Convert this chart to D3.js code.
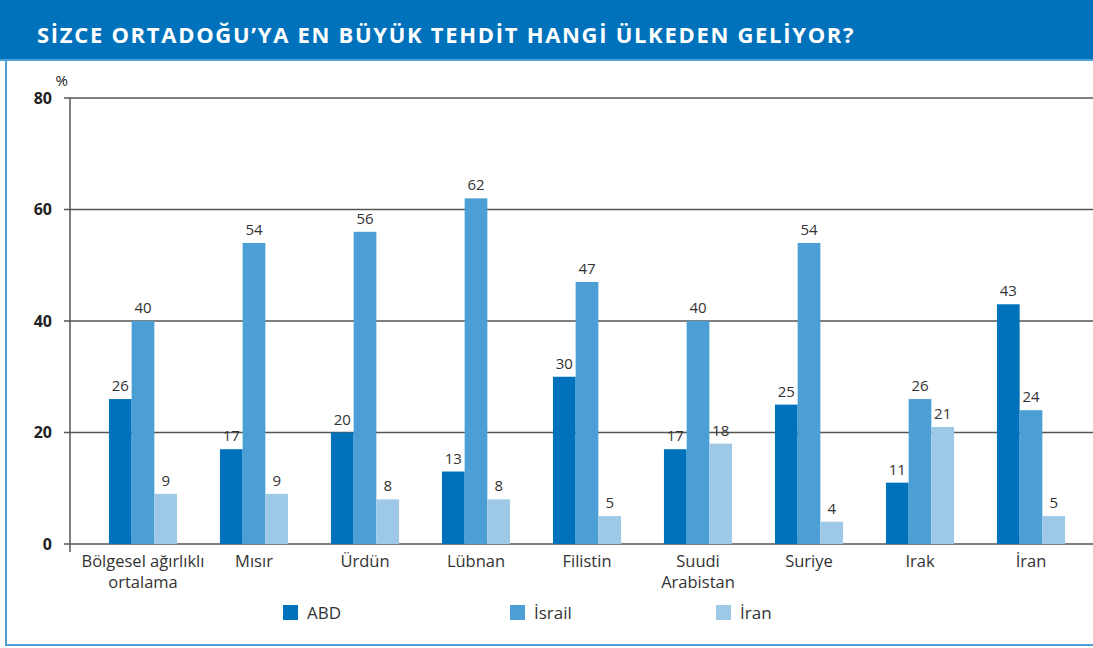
<!DOCTYPE html>
<html>
<head>
<meta charset="utf-8">
<script src="https://cdn.jsdelivr.net/npm/d3@7"></script>
<style>
  body { margin: 0; background: #fff; }
  svg { display: block; font-family: "Open Sans", "DejaVu Sans", sans-serif; }
</style>
</head>
<body>
<div id="chart"></div>
<script>
var svgWidth = 1093;
var svgHeight = 648;

// Data
var categories = ["Bölgesel ağırlıklı|ortalama", "Mısır", "Ürdün", "Lübnan", "Filistin", "Suudi|Arabistan", "Suriye", "Irak", "İran"];
var seriesNames = ["ABD", "İsrail", "İran"];
var abd = [26, 17, 20, 13, 30, 17, 25, 11, 43];
var israil = [40, 54, 56, 62, 47, 40, 54, 26, 24];
var iran = [9, 9, 8, 8, 5, 18, 4, 21, 5];
var yTicks = [0, 20, 40, 60, 80];
var colors = ["#0072bc", "#4b9fd5", "#9dc9e6"];

var margin = { top: 98, left: 70, bottom: 104 };
var height = svgHeight - margin.top - margin.bottom; // 0 at y=544

var svg = d3.select("#chart")
    .append("svg")
    .attr("width", svgWidth)
    .attr("height", svgHeight);

// Title bar
svg.append("rect")
    .attr("x", 0).attr("y", 0)
    .attr("width", svgWidth).attr("height", 60)
    .attr("fill", "#0072bc");
svg.append("rect")
    .attr("x", 0).attr("y", 59)
    .attr("width", svgWidth).attr("height", 2)
    .attr("fill", "#4b9fd5");
svg.append("text")
    .attr("x", 37).attr("y", 43)
    .attr("fill", "#fff")
    .style("font-size", "22px")
    .style("font-weight", "bold")
    .style("letter-spacing", "1.7px")
    .text("SİZCE ORTADOĞU’YA EN BÜYÜK TEHDİT HANGİ ÜLKEDEN GELİYOR?");

// Frame (left + bottom)
svg.append("line")
    .attr("x1", 6).attr("x2", 6).attr("y1", 60).attr("y2", 646)
    .attr("stroke", "#4b9fd5").attr("stroke-width", 2);
svg.append("line")
    .attr("x1", 5).attr("x2", svgWidth).attr("y1", 645).attr("y2", 645)
    .attr("stroke", "#4b9fd5").attr("stroke-width", 2);

var chartGroup = svg.append("g")
    .attr("transform", `translate(${margin.left}, ${margin.top})`);

var data = categories.map(function(c, i) {
    return { cat: c, values: [abd[i], israil[i], iran[i]] };
});

var xScale = d3.scaleBand()
    .domain(categories)
    .range([17.5, 1016.5]);

var yScale = d3.scaleLinear()
    .domain([0, 80])
    .range([height, 0]);

var barW = 22.7;
var xSub = d3.scaleBand()
    .domain(seriesNames)
    .range([0, barW * 3]);

// Gridlines
chartGroup.append("g")
    .selectAll("line")
    .data(yTicks)
    .enter()
    .append("line")
    .attr("x1", -6)
    .attr("x2", svgWidth - margin.left)
    .attr("y1", d => yScale(d))
    .attr("y2", d => yScale(d))
    .attr("stroke", "#555")
    .attr("stroke-width", 1.3);

// Y axis line
chartGroup.append("line")
    .attr("x1", 0).attr("x2", 0)
    .attr("y1", 0).attr("y2", height + 8)
    .attr("stroke", "#555").attr("stroke-width", 1.5);

// Y tick labels
var leftAxis = d3.axisLeft(yScale).tickValues(yTicks).tickSize(0).tickPadding(18);
var yAxisG = chartGroup.append("g").call(leftAxis);
yAxisG.select(".domain").remove();
yAxisG.selectAll("text")
    .style("font-size", "16px")
    .style("font-weight", "bold")
    .style("font-family", "'Open Sans', sans-serif")
    .attr("fill", "#222");

chartGroup.append("text")
    .attr("x", -2).attr("y", -12)
    .attr("text-anchor", "end")
    .style("font-size", "15px")
    .attr("fill", "#222")
    .text("%");

// Bars
var groups = chartGroup.selectAll(".grp")
    .data(data)
    .enter()
    .append("g")
    .attr("class", "grp")
    .attr("transform", d => `translate(${xScale(d.cat) + xScale.bandwidth() / 2 - barW * 1.5}, 0)`);

groups.selectAll("rect")
    .data(d => d.values.map((v, i) => ({ s: seriesNames[i], v: v, i: i })))
    .enter()
    .append("rect")
    .attr("x", d => xSub(d.s))
    .attr("y", d => yScale(d.v))
    .attr("width", xSub.bandwidth())
    .attr("height", d => height - yScale(d.v))
    .attr("fill", d => colors[d.i]);

groups.selectAll(".val")
    .data(d => d.values.map((v, i) => ({ s: seriesNames[i], v: v, i: i })))
    .enter()
    .append("text")
    .attr("class", "val")
    .attr("x", d => xSub(d.s) + xSub.bandwidth() / 2)
    .attr("y", d => yScale(d.v) - 8)
    .attr("text-anchor", "middle")
    .style("font-size", "15px")
    .attr("fill", "#333")
    .text(d => d.v);

// Category labels
var catLabels = chartGroup.append("g")
    .selectAll("text")
    .data(categories)
    .enter()
    .append("text")
    .attr("text-anchor", "middle")
    .style("font-size", "16.5px")
    .attr("fill", "#333");
catLabels.selectAll("tspan")
    .data(d => d.split("|").map(s => ({ s: s, c: d })))
    .enter()
    .append("tspan")
    .attr("x", d => xScale(d.c) + xScale.bandwidth() / 2)
    .attr("y", (d, i) => height + 23 + i * 21)
    .text(d => d.s);

// Legend
var legendX = [283, 510, 716];
var legend = svg.append("g")
    .selectAll("g")
    .data(seriesNames)
    .enter()
    .append("g")
    .attr("transform", (d, i) => `translate(${legendX[i]}, 605)`);
legend.append("rect")
    .attr("width", 15).attr("height", 15)
    .attr("fill", (d, i) => colors[i]);
legend.append("text")
    .attr("x", 24).attr("y", 14)
    .style("font-size", "17px")
    .attr("fill", "#333")
    .text(d => d);
</script>
</body>
</html>
